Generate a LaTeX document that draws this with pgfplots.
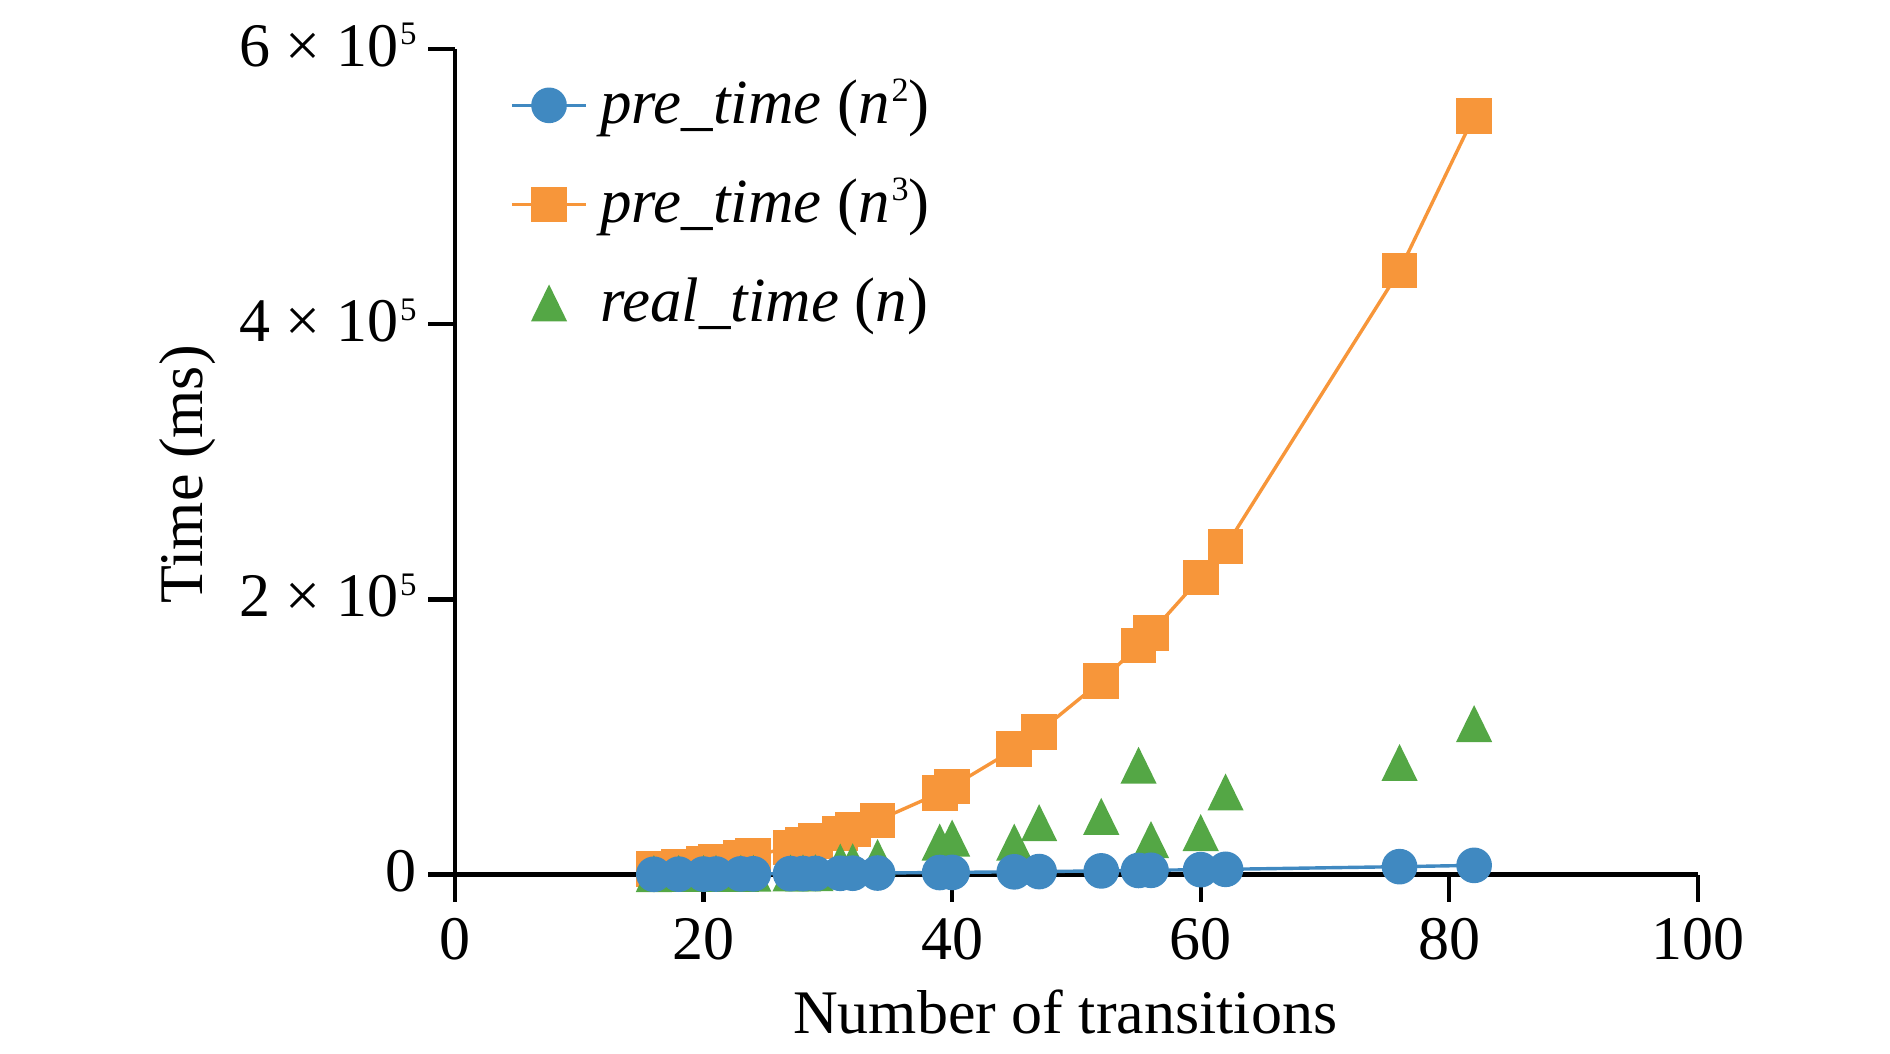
\documentclass[border=0pt]{standalone}
\usepackage{fontspec}
\setmainfont{Liberation Serif}
\usepackage{pgfplots}
\usepackage{pgfplotstable}
\pgfplotsset{compat=1.18}
\definecolor{cblue}{RGB}{64,137,193}
\definecolor{corange}{RGB}{247,150,58}
\definecolor{cgreen}{RGB}{84,167,69}
\newcommand{\sci}[1]{#1 × 10\kern0.3pt\raisebox{3.5pt}{\fontsize{5.3}{6}\selectfont 5}}
\newcommand{\sq}[1]{\kern0.3pt\raisebox{3.6pt}{\fontsize{5.5}{6}\selectfont #1}}

\pgfplotstableread{
n pre2 pre3 real
16 256 4096 200
18 324 5832 250
20 400 8000 300
21 441 9261 350
23 529 12167 400
24 576 13824 450
27 729 19683 600
28 784 21952 700
29 841 24389 800
31 961 29791 8600
32 1024 32768 8800
34 1156 39304 11900
39 1521 59319 23100
40 1600 64000 26000
45 2025 91125 23100
47 2209 103823 37200
52 2704 140608 41800
55 3025 166375 78900
56 3136 175616 24900
60 3600 216000 30000
62 3844 238328 59500
76 5776 438976 80900
82 6724 551368 109200
}\datatable

\begin{document}
\begin{tikzpicture}
\useasboundingbox (-73.4pt,-28.9pt) rectangle (231.5pt,141.1pt);
\begin{axis}[
  at={(0pt,0pt)}, anchor=south west,
  scale only axis, width=200.5pt, height=133.2pt,
  xmin=0, xmax=100, ymin=0, ymax=600000,
  axis x line=bottom, axis y line=left,
  axis line style={-, line width=0.7pt, black},
  tick align=outside, major tick length=4.35pt,
  tick style={line width=0.7pt, black},
  xtick={0,20,40,60,80,100},
  ytick={0,200000,400000,600000},
  yticklabels={0,\sci{2},\sci{4},\sci{6}},
  /pgf/number format/assume math mode=true,
  scaled y ticks=false,
  x tick label style={anchor=north, inner sep=0pt, yshift=-2.45pt},
  y tick label style={anchor=east, inner sep=0pt, xshift=-1.65pt, yshift=0.6pt},
  xlabel={Number of transitions},
  ylabel={Time (ms)},
  xlabel style={at={([xshift=-1.8pt,yshift=-25.6pt]axis description cs:0.5,0)}, anchor=base, inner sep=0pt},
  ylabel style={at={([xshift=-40.8pt,yshift=-2pt]axis description cs:0,0.5)}, anchor=base, rotate=0, inner sep=0pt},
  clip=false,
  legend style={draw=none, fill=none, at={(axis description cs:0,1)}, anchor=north west,
    xshift=8.9pt, yshift=-4.4pt, inner sep=0pt, outer sep=0pt, row sep=6.6pt, column sep=0pt,
    font=\fontsize{10.15}{12}\selectfont,
    nodes={inner xsep=2pt, inner ysep=0pt, text height=7.6pt, text depth=1.8pt, anchor=west}},
  legend cell align=left,
  legend image code/.code={\draw[mark repeat=2,mark phase=2,#1] plot coordinates {(0pt,0pt) (6pt,0pt) (12pt,0pt)};},
]
\addlegendimage{cblue, line width=0.55pt, mark=*, mark size=2.6pt}
\addlegendentry{\textit{pre\_time} (\textit{n}\sq{2})}
\addlegendimage{corange, line width=0.55pt, mark=square*, mark size=2.6pt}
\addlegendentry{\textit{pre\_time} (\textit{n}\sq{3})}
\addlegendimage{cgreen, only marks, mark=triangle*, mark size=3pt, mark options={yscale=1.18, yshift=-0.75pt}}
\addlegendentry{\textit{real\_time} (\textit{n})}

\addplot[corange, line width=0.55pt, mark=square*, mark size=2.6pt, forget plot] table[x=n,y=pre3]{\datatable};
\addplot[cgreen, only marks, mark=triangle*, mark size=3pt, mark options={yscale=1.18, yshift=-0.75pt}, forget plot] table[x=n,y=real]{\datatable};
\addplot[cblue, line width=0.55pt, mark=*, mark size=2.6pt, forget plot] table[x=n,y=pre2]{\datatable};
\end{axis}
\end{tikzpicture}
\end{document}
